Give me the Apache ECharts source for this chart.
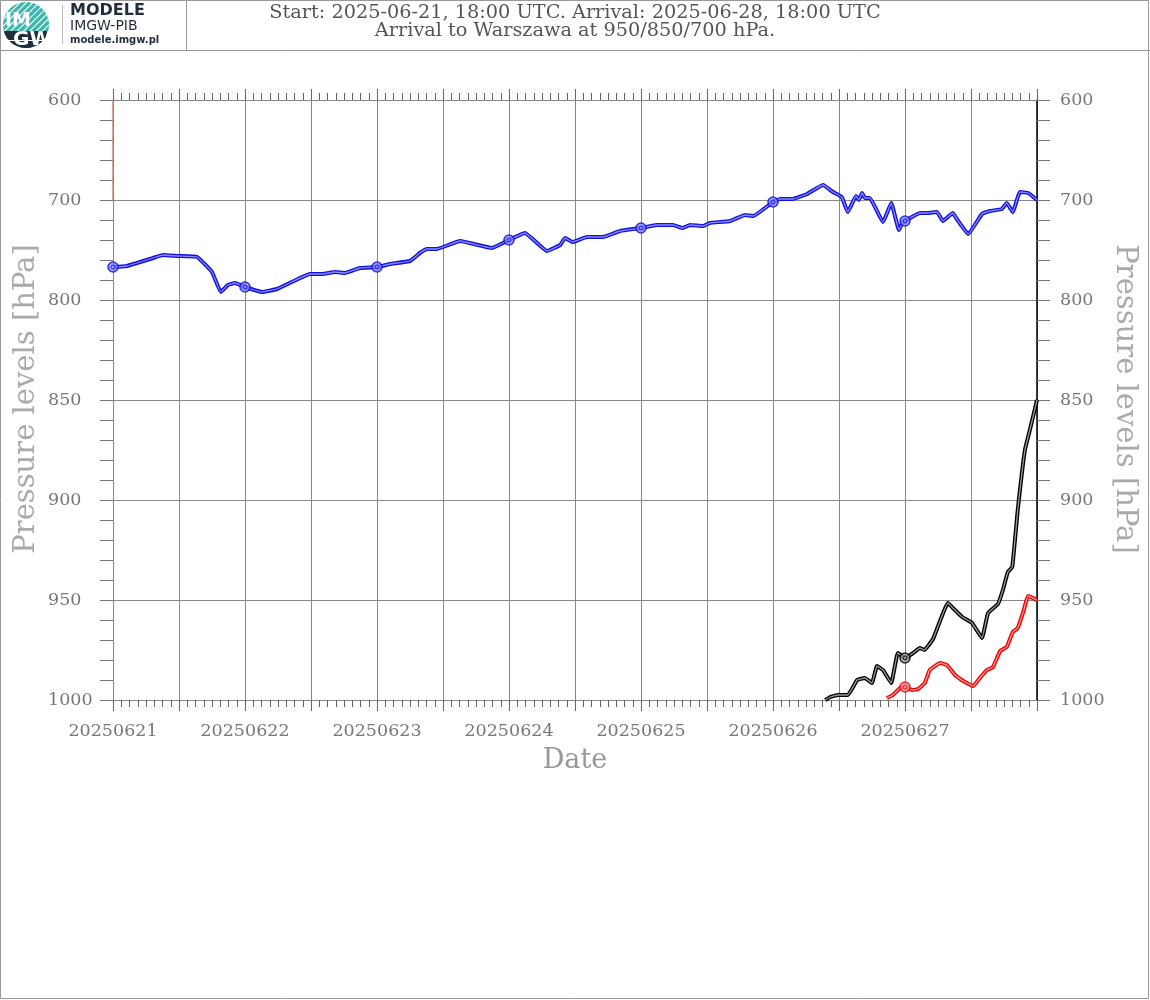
<!DOCTYPE html>
<html><head><meta charset="utf-8">
<script src="https://cdn.jsdelivr.net/npm/echarts@6/dist/echarts.min.js"></script>
<style>html,body{margin:0;padding:0;background:#fff}#c{width:1150px;height:1000px}</style>
</head><body><div id="c"></div>
<script>
// ---- data ----
const levels = [600, 700, 800, 850, 900, 950, 1000];
const dayLabels = ['20250621','20250622','20250623','20250624','20250625','20250626','20250627'];
const titleLine1 = 'Start: 2025-06-21, 18:00 UTC. Arrival: 2025-06-28, 18:00 UTC';
const titleLine2 = 'Arrival to Warszawa at 950/850/700 hPa.';
const yName = 'Pressure levels [hPa]';

// 700 hPa arrival trajectory (hours since 20250621 00, pressure hPa)
const hours700 = [0,2.5,7.3,9.1,11.8,15.3,18,19.6,20.9,22.2,24,27.1,29.8,32.5,35.8,38,40.4,42.2,44.9,48,50.4,54,55.8,57.1,58.9,63.1,68.9,72,74.9,78.9,81.3,82.2,83.5,86.2,89.1,92.2,96,98.9,101.8,103.6,104.9,107.3,108.5,112.2,114.9,116.4,120,121.3,123.6,126.2,129.1,130.9,132.5,133.6,135.1,135.6,136.2,136.7,137.6,140,141.5,142.9,143.6,144,146.7,148,149.8,150.9,152.7,153.3,155.5,158,159.5,161.6,162.5,163.6,164.9,166.4,168];
const p700 = [767,766,758,755,756,757,772,792,785,783,787,792,789,782,774,774,772,773,768,767,764,761,753,749,749,741,748,740,733,751,745,738,742,737,737,731,728,725,725,728,725,726,723,721,715,716,702,699,699,694,685,692,697,712,696,700,693,698,698,722,703,730,722,721,713,713,712,721,713,718,734,714,711,709,703,712,692,693,700];

// 850 hPa arrival trajectory
const hours850 = [129.5,130.4,131.8,133.6,135.3,136.7,138,138.9,140,141.5,142.7,144,145.5,146.7,147.5,149.1,151.8,152.7,154.4,156.2,158,159.1,160.9,161.8,162.7,163.5,164.5,165.8,166.7,168];
const p850 = [1000,998.5,997.5,997.5,990,989,991.5,983,985,991.5,976.5,979,976.5,974,975,969.5,951.5,954,958.5,961.5,969,956.5,952,945,936,933.5,905,875,865,850];

// 950 hPa arrival trajectory
const hours950 = [140.7,141.8,143.1,144,145.3,146.4,147.6,148.5,150.4,151.6,153.1,154.9,156.4,157.6,158.9,160,161.3,162.5,163.6,164.5,165.5,166.4,168];
const p950 = [999,997.5,994,993.5,995,994.5,991.5,985,981.5,982.5,987.5,991,993,989,985,983.5,975.5,973.5,966,964,956,948,950];

// short segment at the start
const hoursStub = [0, 0];
const pStub = [600, 700];

// ---- helpers ----
function toAxis(p) {
  for (let i = 0; i < levels.length - 1; i++) {
    if (p <= levels[i + 1]) return i + (p - levels[i]) / (levels[i + 1] - levels[i]);
  }
  return levels.length - 1;
}
function pts(h, p) { return h.map((x, i) => [x, toAxis(p[i])]); }
function marks(h, p) { return h.map((x, i) => [x, toAxis(p[i])]).filter(d => d[0] % 24 === 0 && d[0] < 168); }

const FONT = 'DejaVu Serif';

function lineSeries(h, p, outer, inner, z) {
  return [
    {type:'line', data: pts(h,p), symbol:'none', smooth:0.1, z:z,
     lineStyle:{color:outer, width:4}, silent:true, animation:false},
    {type:'line', data: pts(h,p), symbol:'none', smooth:0.1, z:z+1,
     lineStyle:{color:inner, width:1.3}, silent:true, animation:false},
    {type:'scatter', data: marks(h,p), symbol:'circle', symbolSize:10, z:z+2,
     itemStyle:{color:inner, borderColor:outer, borderWidth:1.6}, silent:true, animation:false},
    {type:'scatter', data: marks(h,p), symbol:'circle', symbolSize:4, z:z+3,
     itemStyle:{color:'rgba(0,0,0,0)', borderColor:outer, borderWidth:1}, silent:true, animation:false}
  ];
}

const xAxisBase = {
  type:'value', min:0, max:168, interval:12,
  axisLine:{show:true, onZero:false, lineStyle:{color:'#888', width:1}},
  axisTick:{show:true, length:11, inside:false, lineStyle:{color:'#666'}},
  minorTick:{show:true, splitNumber:8, length:7, lineStyle:{color:'#666'}},
  splitLine:{show:false}
};
const yAxisBase = {
  type:'value', min:0, max:6, interval:1, inverse:true,
  axisTick:{show:true, length:13, lineStyle:{color:'#777'}},
  minorTick:{show:true, splitNumber:5, length:13, lineStyle:{color:'#777'}},
  axisLabel:{show:true, align:'left', fontFamily:FONT, fontSize:17.5, color:'#777',
    formatter: v => String(levels[Math.round(v)])}
};

// logo stripes
const lc = [26, 25], lr = 23;
const stripes = [];
for (let d = -20; d <= 20; d += 4.5) {
  const L = Math.sqrt(lr*lr - d*d);
  const mx = lc[0] + d/Math.SQRT2, my = lc[1] + d/Math.SQRT2;
  stripes.push({type:'line', shape:{x1:mx - L/Math.SQRT2, y1:my + L/Math.SQRT2, x2:mx + L/Math.SQRT2, y2:my - L/Math.SQRT2},
    style:{stroke:'#ffffff', lineWidth:1.3, opacity:0.85}, z:101});
}
const segY = 31;
const segPts = [];
{
  const a0 = Math.asin((segY - lc[1]) / lr);
  for (let k = 0; k <= 30; k++) {
    const a = a0 + (Math.PI - 2*a0) * k / 30;
    segPts.push([lc[0] + lr*Math.cos(a), lc[1] + lr*Math.sin(a)]);
  }
}

const option = {
  backgroundColor:'#ffffff',
  animation:false,
  grid:{left:113, right:113, top:100, bottom:300, containLabel:false, outerBoundsMode:'none'},
  xAxis:[
    Object.assign({}, xAxisBase, {position:'bottom',
      axisLabel:{show:true, margin:22, fontFamily:FONT, fontSize:17.5, color:'#777',
        formatter: v => (v % 24 === 0 && v < 168) ? dayLabels[v/24] : ''},
      splitLine:{show:true, lineStyle:{color:'#888', width:1}},
      name:'Date', nameLocation:'middle', nameGap:47,
      nameTextStyle:{fontFamily:FONT, fontSize:27, color:'#999'}}),
    Object.assign({}, xAxisBase, {position:'top', axisLabel:{show:false}})
  ],
  yAxis:[
    Object.assign({}, yAxisBase, {position:'left',
      axisLine:{show:true, onZero:false, lineStyle:{color:'#888', width:1}},
      axisLabel:Object.assign({}, yAxisBase.axisLabel, {margin:65}),
      splitLine:{show:true, lineStyle:{color:'#888', width:1}}}),
    Object.assign({}, yAxisBase, {position:'right',
      axisLine:{show:true, onZero:false, lineStyle:{color:'#000', width:1.5}},
      axisLabel:Object.assign({}, yAxisBase.axisLabel, {margin:23}),
      splitLine:{show:false}})
  ],
  series:[
    {type:'line', data: pts(hoursStub, pStub), symbol:'none', lineStyle:{color:'#c8705a', width:1.2}, z:5, silent:true},
    ...lineSeries(hours700, p700, '#1010e0', '#8a8aff', 10),
    ...lineSeries(hours850, p850, '#000000', '#9a9a9a', 10),
    ...lineSeries(hours950, p950, '#ee0000', '#ff9a9a', 10)
  ],
  graphic:[
    {type:'rect', shape:{x:0.5, y:0.5, width:1148, height:998}, style:{fill:'none', stroke:'#999', lineWidth:1}, z:100},
    {type:'line', shape:{x1:0, y1:50.5, x2:1150, y2:50.5}, style:{stroke:'#999', lineWidth:1}, z:100},
    {type:'line', shape:{x1:186.5, y1:0, x2:186.5, y2:50}, style:{stroke:'#999', lineWidth:1}, z:100},
    {type:'circle', shape:{cx:lc[0], cy:lc[1], r:lr}, style:{fill:'#3bb6ae'}, z:100},
    ...stripes,
    {type:'polygon', shape:{points:segPts}, style:{fill:'#1f2d3d'}, z:102},
    {type:'line', shape:{x1:5, y1:40.5, x2:47, y2:40.5}, style:{stroke:'#ffffff', lineWidth:1}, z:103},
    {type:'text', style:{text:'IM', x:5, y:12, fill:'#ffffff', font:'bold 19px "DejaVu Sans"'}, z:104},
    {type:'text', style:{text:'GW', x:13, y:30, fill:'#ffffff', font:'bold 20px "DejaVu Sans"'}, z:104},
    {type:'line', shape:{x1:62.5, y1:5, x2:62.5, y2:44}, style:{stroke:'#bbb', lineWidth:1}, z:100},
    {type:'text', style:{text:'MODELE', x:70, y:3, fill:'#1f2d3d', font:'bold 16px "DejaVu Sans"'}, z:100},
    {type:'text', style:{text:'IMGW-PIB', x:70, y:19, fill:'#1f2d3d', font:'14px "DejaVu Sans"'}, z:100},
    {type:'text', style:{text:'modele.imgw.pl', x:70, y:35, fill:'#1f2d3d', font:'bold 10px "DejaVu Sans"'}, z:100},
    {type:'text', style:{text:titleLine1, x:575, y:13, align:'center', verticalAlign:'middle', fill:'#555', font:'19.3px "DejaVu Serif"'}, z:100},
    {type:'text', style:{text:titleLine2, x:575, y:31, align:'center', verticalAlign:'middle', fill:'#555', font:'19.3px "DejaVu Serif"'}, z:100},
    {type:'text', x:26, y:399, rotation:Math.PI/2, style:{text:yName, align:'center', verticalAlign:'middle', fill:'#aaa', font:'29px "DejaVu Serif"'}, z:100},
    {type:'text', x:1125, y:399, rotation:-Math.PI/2, style:{text:yName, align:'center', verticalAlign:'middle', fill:'#aaa', font:'29px "DejaVu Serif"'}, z:100}
  ]
};
const chart = echarts.init(document.getElementById('c'), null, {renderer:'canvas'});
chart.setOption(option);
</script></body></html>
